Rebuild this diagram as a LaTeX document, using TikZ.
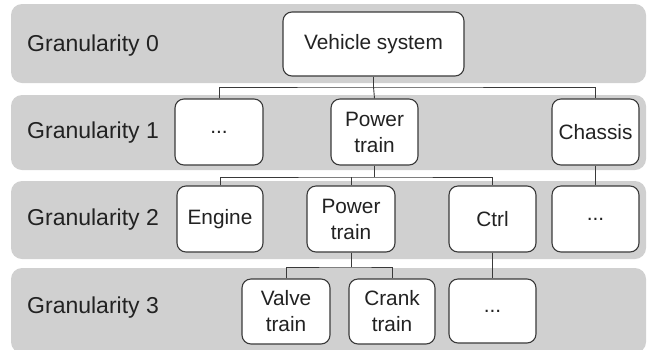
\documentclass[tikz,border=0pt]{standalone}
\usepackage{fontspec}
\setmainfont{Liberation Sans}
\definecolor{bandgray}{HTML}{D0D0D0}
\definecolor{edgegray}{HTML}{3A3A3A}
\definecolor{inkgray}{HTML}{222222}
\begin{document}
\begin{tikzpicture}[x=1pt,y=-1pt,
  lvl/.style={anchor=west, inner sep=0pt, text=inkgray,
    font=\fontsize{23}{26}\selectfont},
  box/.style={draw=edgegray, fill=white, line width=1.1pt, rounded corners=9pt,
    align=center, inner sep=0pt, text=inkgray,
    minimum width=87pt, minimum height=65pt,
    font=\fontsize{20.8}{26}\selectfont},
  link/.style={draw=edgegray, line width=0.9pt}]
\useasboundingbox (0,0) rectangle (647,349);

% horizontal bands, one per level
\fill[bandgray, rounded corners=11pt] (11,4) rectangle (646,83);
\fill[bandgray, rounded corners=11pt] (11,95) rectangle (646,170);
\fill[bandgray, rounded corners=11pt] (11,181) rectangle (646,259);
\fill[bandgray, rounded corners=11pt] (11,268) rectangle (646,353);

% level labels
\node[lvl] (g0) at (27,46) {Granularity 0};
\node[lvl] (g1) at (27,133) {Granularity 1};
\node[lvl] (g2) at (27,220) {Granularity 2};
\node[lvl] (g3) at (27,308) {Granularity 3};

% level 0
\node[box, minimum width=181pt, minimum height=64pt] (veh) at (373.5,44) {Vehicle system};

% level 1
\node[box, minimum width=88pt, minimum height=66pt] (l1dots) at (219,132) {...};
\node[box, minimum height=66pt] (l1pt) at (374.5,132) {Power\\train};
\node[box, minimum height=66pt] (chassis) at (595.5,132) {Chassis};

% level 2
\node[box, minimum width=86pt, minimum height=66pt] (engine) at (220,219) {Engine};
\node[box, minimum width=88pt, minimum height=66pt] (l2pt) at (351,219) {Power\\train};
\node[box, minimum height=66pt] (ctrl) at (492.5,219) {Ctrl};
\node[box, minimum height=66pt] (l2dots) at (595.5,219) {...};

% level 3
\node[box, minimum width=88pt] (valve) at (286,311.5) {Valve\\train};
\node[box, minimum width=86pt] (crank) at (392,311.5) {Crank\\train};
\node[box, minimum height=64pt] (l3dots) at (492.5,311) {...};

% tree connectors
\coordinate (j0) at (373.5,87);
\coordinate (j1) at (374.5,177);
\coordinate (j2) at (351,267);
\draw[link] (veh.south) -- (j0);
\draw[link] (l1dots.north) |- (j0) -| (chassis.north);
\draw[link] (j0) -- (l1pt.north);
\draw[link] (l1pt.south) -- (j1);
\draw[link] (engine.north) |- (j1) -| (ctrl.north);
\draw[link] (j1 -| l2pt.north) -- (l2pt.north);
\draw[link] (chassis.south) -- (l2dots.north);
\draw[link] (l2pt.south) -- (j2);
\draw[link] (valve.north) |- (j2) -| (crank.north);
\draw[link] (ctrl.south) -- (l3dots.north);
\end{tikzpicture}
\end{document}
